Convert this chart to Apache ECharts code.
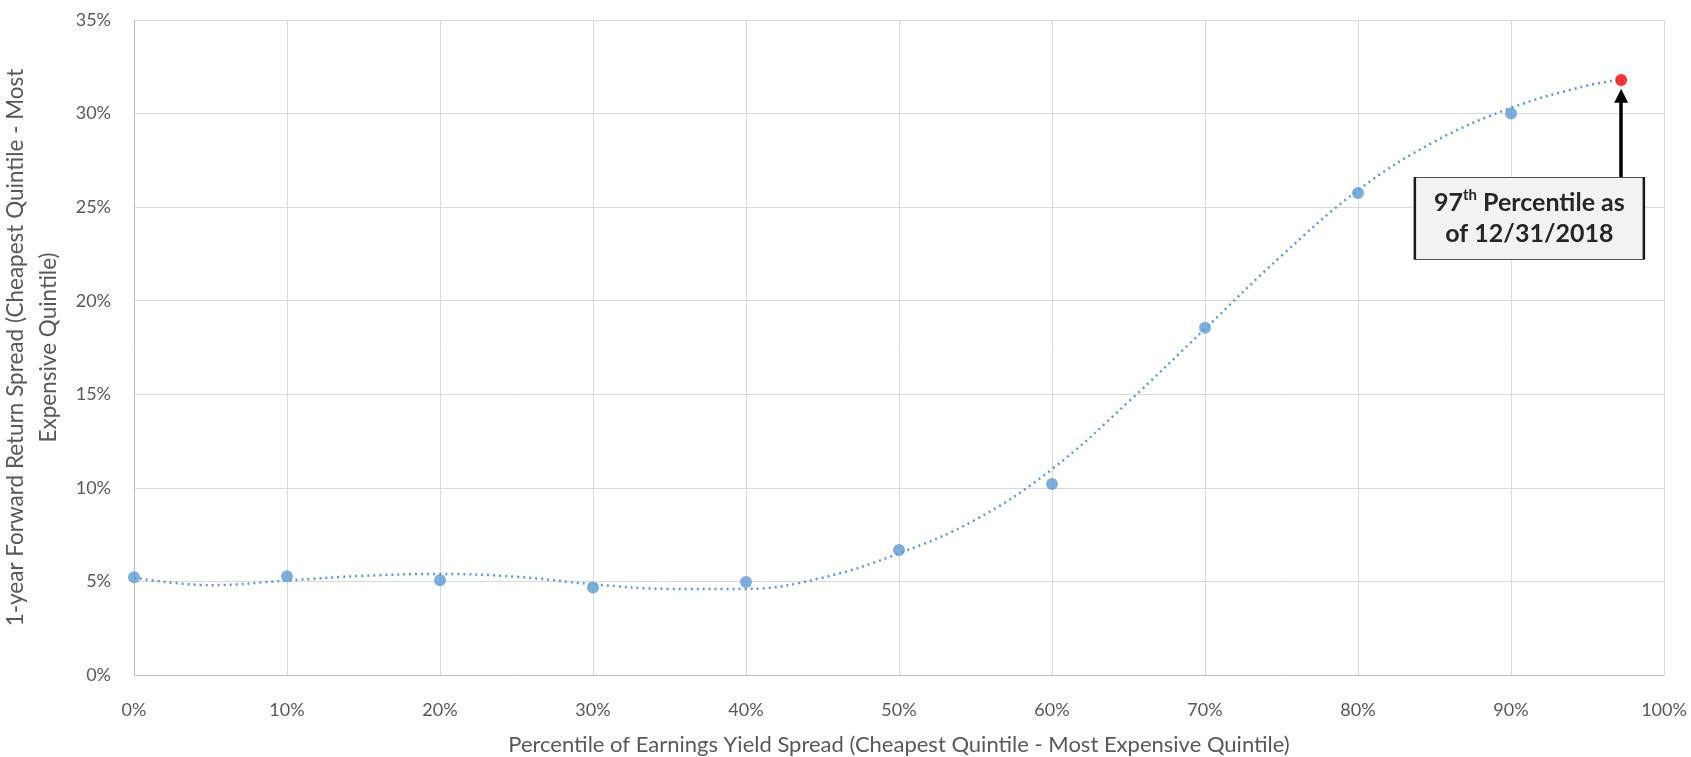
<!DOCTYPE html>
<html>
<head>
<meta charset="utf-8">
<script src="https://cdn.jsdelivr.net/npm/echarts@6/dist/echarts.min.js"></script>
<style>
html,body{margin:0;padding:0;background:#fff;}
#chart{width:1691px;height:757px;}
</style>
</head>
<body>
<div id="chart"></div>
<script>
// ---- data ----
const pctX = [0, 10, 20, 30, 40, 50, 60, 70, 80, 90];
const spreadReturns = [5.22, 5.28, 5.06, 4.68, 4.97, 6.68, 10.2, 18.55, 25.75, 30.0];
const currentX = [97.2];
const currentY = [31.8];
const trendX = [0, 5, 10, 15, 20, 25, 30, 35, 40, 45, 50, 55, 60, 65, 70, 75, 80, 85, 90, 95, 97.2];
const trendY = [5.2, 4.8, 5.05, 5.3, 5.4, 5.25, 4.85, 4.6, 4.6, 5.2, 6.5, 8.3, 11.0, 14.6, 18.5, 22.4, 25.9, 28.5, 30.3, 31.5, 31.8];
const yTicks = [0, 5, 10, 15, 20, 25, 30, 35];
const xTicks = [0, 10, 20, 30, 40, 50, 60, 70, 80, 90, 100];
const xTitle = 'Percentile of Earnings Yield Spread (Cheapest Quintile - Most Expensive Quintile)';
const yTitle = '1-year Forward Return Spread (Cheapest Quintile - Most\nExpensive Quintile)';
const noteLine1 = ['97', 'th', ' Percentile as'];
const noteLine2 = 'of 12/31/2018';
const noteBox = [91.2, 24.4];
const arrowFrom = [97.2, 26.6];
const arrowTo = [97.2, 30.95];

const font = 'Lato, "Open Sans", sans-serif';
const chart = echarts.init(document.getElementById('chart'), null, {renderer: 'canvas'});

const option = {
  animation: false,
  backgroundColor: '#ffffff',
  grid: {left: 134, right: 27, top: 20, bottom: 82, containLabel: false, outerBoundsMode: 'none'},
  xAxis: {
    type: 'value', min: xTicks[0], max: xTicks[xTicks.length - 1], interval: 10,
    name: xTitle, nameLocation: 'middle', nameGap: 59,
    nameTextStyle: {fontFamily: font, fontSize: 22, color: '#595959'},
    axisLine: {show: true, lineStyle: {color: '#bfbfbf', width: 1}},
    axisTick: {show: false},
    splitLine: {show: true, lineStyle: {color: '#d9d9d9', width: 1}},
    axisLabel: {formatter: '{value}%', fontFamily: font, fontSize: 18, color: '#595959', margin: 26}
  },
  yAxis: {
    type: 'value', min: yTicks[0], max: yTicks[yTicks.length - 1], interval: 5,
    name: yTitle, nameLocation: 'middle', nameGap: 67, nameRotate: 90,
    nameTextStyle: {fontFamily: font, fontSize: 22.5, color: '#595959', lineHeight: 33, align: 'center'},
    axisLine: {show: true, lineStyle: {color: '#bfbfbf', width: 1}},
    axisTick: {show: false},
    splitLine: {show: true, lineStyle: {color: '#d9d9d9', width: 1}},
    axisLabel: {formatter: '{value}%', fontFamily: font, fontSize: 18, color: '#595959', margin: 23}
  },
  series: [
    {
      name: 'trend', type: 'line', smooth: 0.4,
      data: trendX.map((x, i) => [x, trendY[i]]),
      showSymbol: false, symbol: 'none',
      lineStyle: {color: '#5b9bd5', width: 2.5, type: [2, 4]},
      z: 2
    },
    {
      name: 'points', type: 'scatter',
      data: pctX.map((x, i) => [x, spreadReturns[i]]),
      symbol: 'circle', symbolSize: 12,
      itemStyle: {color: '#5b9bd5'},
      z: 3
    },
    {
      name: 'current', type: 'scatter',
      data: currentX.map((x, i) => [x, currentY[i]]),
      symbol: 'circle', symbolSize: 12,
      itemStyle: {color: '#ff0000'},
      z: 4,
      markLine: {
        silent: true, animation: false,
        symbol: ['none', 'triangle'], symbolSize: [14, 14],
        label: {show: false},
        lineStyle: {color: '#000000', width: 3.5, type: 'solid'},
        data: [[{coord: arrowFrom}, {coord: arrowTo}]]
      },
      markPoint: {
        silent: true, animation: false,
        data: [{
          coord: noteBox,
          symbol: 'rect', symbolSize: [229, 82],
          itemStyle: {color: '#f2f2f2', borderColor: '#1a1a1a', borderWidth: 1.5},
          label: {
            show: true, position: 'inside',
            formatter: '{b|' + noteLine1[0] + '}{s|' + noteLine1[1] + '}{b|' + noteLine1[2] + '}\n{b|' + noteLine2 + '}',
            rich: {
              b: {fontFamily: font, fontWeight: 'bold', fontSize: 25, color: '#262626', lineHeight: 31},
              s: {fontFamily: font, fontWeight: 'bold', fontSize: 15, color: '#262626', lineHeight: 31, verticalAlign: 'top', padding: [0, 0, 10, 0]}
            }
          }
        }]
      }
    }
  ]
};
chart.setOption(option);
</script>
</body>
</html>
